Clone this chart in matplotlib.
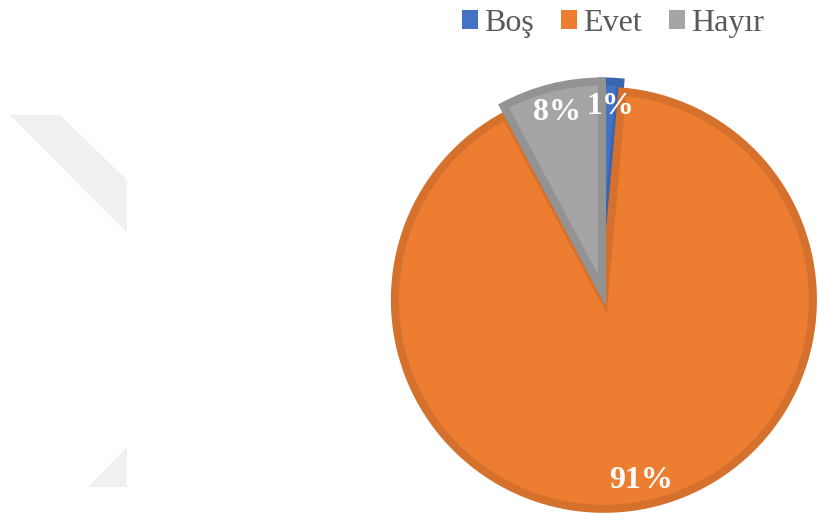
import matplotlib
matplotlib.use('Agg')
import matplotlib.pyplot as plt
from matplotlib.patches import Patch, Polygon

plt.rcParams['font.family'] = ['Liberation Serif', 'DejaVu Serif']

# veriler
labels = ['Boş', 'Evet', 'Hayır']
values = [1.4, 90.8, 7.8]
colors = ['#4472C4', '#ED7D31', '#A5A5A5']
edge_colors = ['#3A64AE', '#D5712D', '#939393']

fig = plt.figure(figsize=(8.18, 5.13), dpi=100)
ax = fig.add_axes([0, 0, 1, 1])
ax.set_xlim(0, 818)
ax.set_ylim(0, 513)

# soluk filigran
wm = '#F0F0F0'
ax.add_patch(Polygon([(10, 398), (60, 398), (127, 333), (127, 280)],
                     closed=True, facecolor=wm, edgecolor='none', zorder=0))
ax.add_patch(Polygon([(127, 66), (88, 26), (127, 26)],
                     closed=True, facecolor=wm, edgecolor='none', zorder=0))

# explode veri biriminde (piksel) - Evet dilimi biraz disari
wedges, texts, autotexts = ax.pie(
    values, colors=colors, explode=[0, 9.5, 0], startangle=90, counterclock=False,
    center=(602, 222.5), radius=209, frame=True,
    autopct='%.0f%%', pctdistance=0.88,
    wedgeprops=dict(linewidth=5.8),
    textprops=dict(color='white', fontsize=23, fontweight='bold'))

for w, ec in zip(wedges, edge_colors):
    w.set_edgecolor(ec)

ax.set_xlim(0, 818)
ax.set_ylim(0, 513)
ax.axis('off')

handles = [Patch(facecolor=c, edgecolor='none') for c in colors]
fig.legend(handles, labels, loc='upper center', bbox_to_anchor=(613 / 818, 1.02),
           ncol=3, frameon=False, fontsize=23, labelcolor='#595959',
           handlelength=0.5, handleheight=0.5, handletextpad=0.2,
           columnspacing=0.85, borderpad=0.1)

plt.savefig('out.png', dpi=100)
plt.close()
